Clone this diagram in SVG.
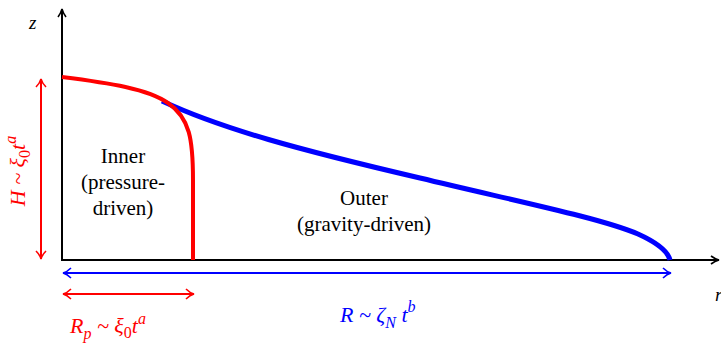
<svg xmlns="http://www.w3.org/2000/svg" width="721" height="346" viewBox="0 0 721 346">
<style>
.t{font-family:"Liberation Serif","Times New Roman",serif;font-size:21px;fill:#000}
.m{font-family:"Liberation Serif","Times New Roman",serif;font-size:22px;font-style:italic}
.sub{font-size:16px}
</style>
<defs>
<marker id="ak" viewBox="0 0 10 10" refX="9" refY="5" markerWidth="10" markerHeight="10" markerUnits="userSpaceOnUse" orient="auto-start-reverse">
<path d="M1,1 Q5,4 9,5 Q5,6 1,9" fill="none" stroke="#000" stroke-width="1.6"/>
</marker>
<marker id="ar" viewBox="0 0 10 12" refX="9" refY="6" markerWidth="10" markerHeight="12" markerUnits="userSpaceOnUse" orient="auto-start-reverse">
<path d="M1,1 Q5,5 9,6 Q5,7 1,11" fill="none" stroke="#f00" stroke-width="1.6"/>
</marker>
<marker id="ab" viewBox="0 0 10 12" refX="9" refY="6" markerWidth="10" markerHeight="12" markerUnits="userSpaceOnUse" orient="auto-start-reverse">
<path d="M1,1 Q5,5 9,6 Q5,7 1,11" fill="none" stroke="#00f" stroke-width="1.6"/>
</marker>
</defs>
<g id="axes" fill="none" stroke="#000" stroke-width="2">
<line x1="62" y1="261" x2="62" y2="9" marker-end="url(#ak)"/>
<line x1="61" y1="260" x2="719" y2="260" marker-end="url(#ak)"/>
</g>
<text class="m" x="29" y="29" style="font-size:19px">z</text>
<text class="m" x="715" y="301" style="font-size:19px">r</text>
<g id="connectors" fill="none">
<path id="outer-curve" d="M162,101 C222,129 300,150 420,178 C520,202 600,218 638,234 C660,244 668,252 670,260" stroke="#00f" stroke-width="5"/>
<path id="inner-curve" d="M62,77 C110,83 148,89 168,103 C190,118 193,140 193,180 L193,260" stroke="#f00" stroke-width="4"/>
<line x1="41" y1="79" x2="41" y2="259" stroke="#f00" stroke-width="2" marker-start="url(#ar)" marker-end="url(#ar)"/>
<line x1="63" y1="273" x2="671" y2="273" stroke="#00f" stroke-width="2" marker-start="url(#ab)" marker-end="url(#ab)"/>
<line x1="63" y1="294" x2="194" y2="294" stroke="#f00" stroke-width="2" marker-start="url(#ar)" marker-end="url(#ar)"/>
</g>
<g id="inner">
<text class="t" text-anchor="middle" x="123" y="163">Inner</text>
<text class="t" text-anchor="middle" x="123" y="189">(pressure-</text>
<text class="t" text-anchor="middle" x="123" y="215">driven)</text>
</g>
<g id="outer">
<text class="t" text-anchor="middle" x="364" y="205">Outer</text>
<text class="t" text-anchor="middle" x="364" y="231">(gravity-driven)</text>
</g>
<g id="label-H">
<text class="m" fill="#f00" transform="translate(25,171) rotate(-90)" text-anchor="middle">H ~ ξ<tspan class="sub" dy="5" font-style="normal">0</tspan><tspan dy="-5">t</tspan><tspan class="sub" dy="-9">a</tspan></text>
</g>
<g id="label-Rp">
<text class="m" fill="#f00" x="70" y="333">R<tspan class="sub" dy="6">p</tspan><tspan dy="-6"> ~ ξ</tspan><tspan class="sub" dy="5" font-style="normal">0</tspan><tspan dy="-5">t</tspan><tspan class="sub" dy="-9">a</tspan></text>
</g>
<g id="label-R">
<text class="m" fill="#00f" x="340" y="322">R ~ ζ<tspan class="sub" dy="6">N</tspan><tspan dy="-6"> t</tspan><tspan class="sub" dy="-10">b</tspan></text>
</g>
</svg>
